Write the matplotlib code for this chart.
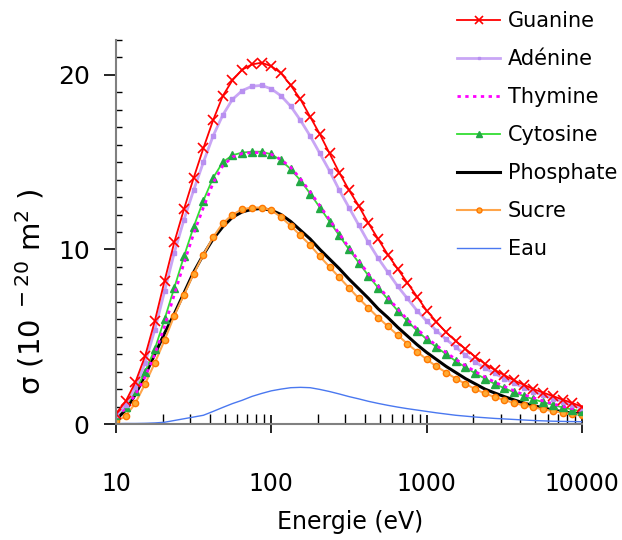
import matplotlib
matplotlib.use("Agg")
import matplotlib.pyplot as plt
from matplotlib.ticker import FixedLocator, MultipleLocator, NullFormatter, LogLocator

# energies (eV), 16 points per decade
energie = [10, 11.55, 13.34, 15.40, 17.78, 20.54, 23.71, 27.38, 31.62, 36.52, 42.17, 48.70,
           56.23, 64.94, 74.99, 86.60, 100, 115.5, 133.4, 154.0, 177.8, 205.4, 237.1, 273.8,
           316.2, 365.2, 421.7, 487.0, 562.3, 649.4, 749.9, 866.0, 1000, 1155, 1334, 1540,
           1778, 2054, 2371, 2738, 3162, 3652, 4217, 4870, 5623, 6494, 7499, 8660, 10000]

# cross sections (10^-20 m^2)
guanine = [0.6, 1.3, 2.4, 3.9, 5.9, 8.2, 10.4, 12.3, 14.1, 15.8, 17.4, 18.8, 19.7, 20.3, 20.6, 20.7,
           20.5, 20.1, 19.4, 18.6, 17.6, 16.6, 15.5, 14.4, 13.4, 12.5, 11.5, 10.6, 9.7, 8.9, 8.1, 7.3,
           6.5, 5.85, 5.25, 4.75, 4.3, 3.85, 3.45, 3.1, 2.8, 2.5, 2.25, 2.0, 1.8, 1.6, 1.4, 1.2, 1.0]
adenine = [0.5, 1.1, 2.1, 3.5, 5.4, 7.6, 9.8, 11.7, 13.4, 15.0, 16.5, 17.7, 18.6, 19.1, 19.35, 19.4,
           19.2, 18.8, 18.2, 17.4, 16.5, 15.5, 14.5, 13.4, 12.4, 11.4, 10.4, 9.5, 8.7, 7.9, 7.2, 6.5,
           5.9, 5.35, 4.85, 4.4, 3.95, 3.55, 3.2, 2.9, 2.6, 2.33, 2.08, 1.85, 1.65, 1.46, 1.27, 1.08, 0.9]
thymine = [0.45, 0.9, 1.7, 2.7, 4.0, 5.6, 7.4, 9.2, 10.9, 12.4, 13.8, 14.8, 15.3, 15.5, 15.55, 15.55,
           15.45, 15.15, 14.7, 14.05, 13.3, 12.5, 11.7, 10.9, 10.1, 9.35, 8.6, 7.9, 7.25, 6.6, 6.0, 5.45,
           4.95, 4.5, 4.1, 3.7, 3.35, 3.0, 2.7, 2.4, 2.15, 1.9, 1.68, 1.5, 1.32, 1.16, 1.01, 0.88, 0.77]
cytosine = [0.5, 1.0, 1.9, 3.0, 4.3, 6.0, 7.8, 9.6, 11.3, 12.8, 14.1, 15.0, 15.4, 15.55, 15.6, 15.6,
            15.45, 15.1, 14.6, 13.95, 13.2, 12.4, 11.6, 10.8, 10.0, 9.25, 8.5, 7.8, 7.15, 6.5, 5.9, 5.35,
            4.85, 4.4, 4.0, 3.6, 3.25, 2.9, 2.6, 2.3, 2.05, 1.82, 1.6, 1.42, 1.25, 1.1, 0.95, 0.83, 0.72]
phosphate = [0.25, 0.8, 1.7, 2.8, 4.0, 5.2, 6.3, 7.5, 8.7, 9.7, 10.6, 11.3, 11.85, 12.15, 12.3, 12.35,
             12.25, 12.0, 11.6, 11.1, 10.6, 10.0, 9.45, 8.9, 8.3, 7.75, 7.2, 6.6, 6.1, 5.55, 5.05, 4.55,
             4.1, 3.7, 3.3, 2.95, 2.6, 2.3, 2.0, 1.78, 1.57, 1.38, 1.2, 1.05, 0.92, 0.8, 0.7, 0.62, 0.57]
sucre = [0.15, 0.45, 1.2, 2.3, 3.5, 4.8, 6.2, 7.4, 8.6, 9.7, 10.7, 11.5, 12.0, 12.3, 12.4, 12.4,
         12.25, 11.85, 11.35, 10.8, 10.25, 9.6, 9.0, 8.4, 7.8, 7.2, 6.65, 6.1, 5.6, 5.1, 4.6, 4.15,
         3.7, 3.3, 2.95, 2.6, 2.3, 2.0, 1.75, 1.55, 1.37, 1.2, 1.07, 0.95, 0.84, 0.74, 0.65, 0.58, 0.52]
eau = [0.02, 0.03, 0.03, 0.04, 0.06, 0.1, 0.2, 0.3, 0.4, 0.5, 0.72, 0.95, 1.17, 1.36, 1.58, 1.75,
       1.9, 2.0, 2.08, 2.1, 2.08, 1.98, 1.86, 1.72, 1.57, 1.44, 1.3, 1.18, 1.07, 0.97, 0.88, 0.8,
       0.72, 0.64, 0.57, 0.5, 0.45, 0.4, 0.36, 0.32, 0.29, 0.26, 0.23, 0.2, 0.18, 0.16, 0.15, 0.14, 0.13]

x_ticks = [10, 100, 1000, 10000]
x_labels = ["10", "100", "1000", "10000"]
y_ticks = [0, 10, 20]

fig = plt.figure(figsize=(6.22, 5.4), dpi=100)
ax = fig.add_axes([116 / 622, 1 - 424 / 540, 466 / 622, 384 / 540])

l_eau, = ax.plot(energie, eau, color="#4a78f0", lw=1.0, label="Eau")
l_pho, = ax.plot(energie, phosphate, color="black", lw=2.2, label="Phosphate")
l_suc, = ax.plot(energie, sucre, color="#ffa54a", lw=1.5, marker="o", ms=4.5,
                 mfc="#ffaa33", mec="#ff7700", mew=1.0, label="Sucre")
l_cyt, = ax.plot(energie, cytosine, color="#33dd33", lw=1.3, marker="^", ms=5.5,
                 mfc="#22aa44", mec="#22aa44", label="Cytosine")
l_thy, = ax.plot(energie, thymine, color="#ff00ff", lw=2.0, ls=(0, (1.2, 1.6)), label="Thymine")
l_ade, = ax.plot(energie, adenine, color="#c9a6f5", lw=2.0, marker="s", ms=2.5,
                 mfc="#b890f0", mec="#b890f0", label="Adénine")
l_gua, = ax.plot(energie, guanine, color="#ff0000", lw=1.3, marker="x", ms=6.5, mew=1.2,
                 label="Guanine")

ax.set_xscale("log")
ax.set_xlim(10, 10000)
ax.set_ylim(0, 22)

ax.xaxis.set_major_locator(FixedLocator(x_ticks))
ax.set_xticklabels(x_labels)
ax.xaxis.set_minor_locator(LogLocator(base=10, subs=range(2, 10)))
ax.xaxis.set_minor_formatter(NullFormatter())
ax.yaxis.set_major_locator(FixedLocator(y_ticks))
ax.yaxis.set_minor_locator(MultipleLocator(1))

for side in ["top", "right"]:
    ax.spines[side].set_visible(False)
for side in ["left", "bottom"]:
    ax.spines[side].set_color("#808080")
    ax.spines[side].set_linewidth(1.5)

ax.tick_params(axis="x", which="major", direction="inout", length=13, width=1.2,
               labelsize=17, pad=28)
ax.tick_params(axis="x", which="minor", direction="in", length=7, width=1.0)
ax.tick_params(axis="y", which="major", direction="out", length=9, width=1.2,
               labelsize=18, pad=10)
ax.tick_params(axis="y", which="minor", direction="in", length=4, width=1.0)

fig.text(350 / 622, 1 - 522 / 540, "Energie (eV)", ha="center", va="center", fontsize=17)
fig.text(30 / 622, 1 - 292 / 540, "σ (10$^{\\ -20}$ m$^{2}$ )", rotation=90,
         ha="center", va="center", fontsize=21)

handles = [l_gua, l_ade, l_thy, l_cyt, l_pho, l_suc, l_eau]
fig.legend(handles=handles, labels=[h.get_label() for h in handles],
           loc="upper left", bbox_to_anchor=(449 / 622, 1 - 3 / 540), borderaxespad=0,
           frameon=False, fontsize=15, handlelength=2.07, handletextpad=0.34,
           labelspacing=0.86, markerscale=0.8, numpoints=1)

fig.savefig("out.png", dpi=100)
